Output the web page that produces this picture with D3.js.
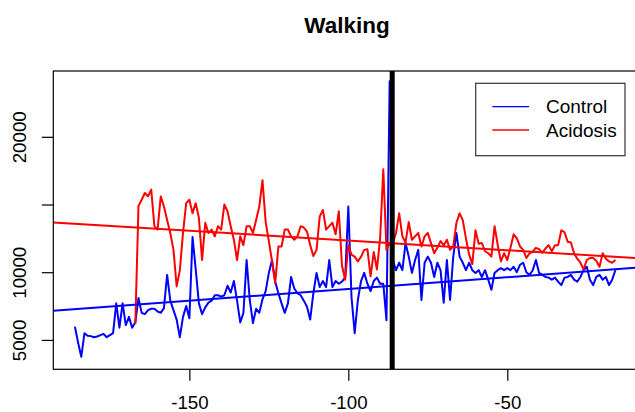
<!DOCTYPE html>
<html>
<head>
<meta charset="utf-8">
<script src="https://cdn.jsdelivr.net/npm/d3@7"></script>
<style>
  body { margin: 0; background: #fff; }
  svg { display: block; font-family: "Liberation Sans", Arial, sans-serif; }
</style>
</head>
<body>
<div id="chart"></div>
<script>
// data: one value per time step
var controlStart = -186;
var controlValues = [
  5970, 4800, 3750, 5500, 5300, 5280, 5200, 5250, 5350, 5450,
  5200, 5350, 5500, 7700, 5900, 7700, 6100, 6700, 5900, 6300,
  8100, 7000, 6900, 7200, 7300, 7300, 7100, 7000, 7350, 9800,
  7900, 7200, 6500, 5200, 6700, 7500, 6600, 12600, 10200, 7700,
  6900, 7400, 7750, 7900, 8300, 8300, 8200, 8300, 9000, 8500,
  9350, 7900, 6300, 7000, 10900, 7950, 6250, 7300, 7000, 8000,
  8600, 9950, 10900, 9300, 8450, 7700, 7000, 7700, 9650, 8800,
  8450, 8300, 7900, 7450, 6500, 8450, 9950, 8900, 9350, 8900,
  10900, 8900, 9350, 9150, 9300, 9600, 14850, 8150, 5500, 7950,
  9350, 9950, 9150, 8600, 9350, 9600, 9150, 9150, 6450, 24100,
  10900, 10150, 10700, 10150, 12150, 11150, 9950, 10900, 11650, 7950,
  10700, 11150, 10700, 9650, 10700, 10150, 7750, 10900, 7950, 11150,
  12900, 11150, 10700, 10150, 10700, 10150, 9950, 10150, 9650, 10150,
  9450, 8700, 9950, 10150, 10300, 10150, 10300, 10150, 10400, 10000,
  10550, 10700, 10000, 9800, 10150, 10900, 9950, 9800, 9650, 9600,
  9450, 9600, 9300, 9050, 9600, 9650, 9800, 9450, 9300, 9650,
  10150, 10400, 9450, 9050, 9650, 9800, 9450, 9650, 9050, 9450, 10150
];

var acidosisStart = -167;
var acidosisValues = [
  6200, 14900, 15350, 15850, 15600, 16100, 13400, 13150, 15600, 14850,
  13850, 12900, 11650, 8950, 10150, 12900, 15100, 15350, 14350, 15100,
  14000, 10900, 13650, 12900, 13150, 12650, 13400, 13150, 15000, 14500,
  13400, 12400, 10900, 12650, 12000, 13400, 13400, 12900, 13850, 14850,
  16800, 13700, 12300, 10800, 9200, 11900, 11900, 13150, 13150, 12650,
  12400, 12650, 13400, 13300, 13000, 12000, 11200, 11650, 14100, 14600,
  13150, 13400, 13650, 12800, 14500, 10500, 9450, 12000, 11300, 11150,
  10800, 11150, 11650, 11700, 9700, 11500, 10200, 12500, 17600, 11650,
  12150, 12150, 12900, 14350, 12650, 12200, 13700, 12400, 12650, 12900,
  11900, 12650, 12900, 12150, 11400, 11800, 12300, 12000, 12400, 11650,
  11900, 13650, 14350, 13850, 12500, 11300, 10600, 13100, 12100, 12150,
  11550, 11400, 11150, 13400, 12000, 10800, 11400, 10900, 11800, 12800,
  12500, 11900, 11650, 11050, 11400, 11500, 11800, 11700, 11450, 11750,
  12000, 11550, 12000, 12000, 13100, 12950, 12250, 12200, 11400, 11000,
  10700, 10200, 10900, 11050, 11050, 10850, 10400, 11400, 11000, 10800,
  10700, 10900
];

// fitted lines [intercept, slope]
var controlFit = [10500, 17.35];
var acidosisFit = [10905, -14.36];

var seriesNames = ["Control", "Acidosis"];
var seriesColors = ["#0000ff", "#ff0000"];
var markerX = -86.2;

var xTicks = [-150, -100, -50];
var yTicks = [5000, 10000, 15000, 20000];
var yLabels = ["5000", "10000", "", "20000"];

var W = 635, H = 412;
var plot = {left: 53.3, right: 637, top: 71, bottom: 369.3};

var x = d3.scaleLinear().domain([-192.8, -9.2]).range([plot.left, plot.right]);
var y = d3.scaleLinear().domain([2830, 24860]).range([plot.bottom, plot.top]);

var svg = d3.select("#chart").append("svg")
    .attr("width", W)
    .attr("height", H);

svg.append("clipPath").attr("id", "clip")
  .append("rect")
    .attr("x", plot.left).attr("y", plot.top)
    .attr("width", plot.right - plot.left).attr("height", plot.bottom - plot.top);

var toPoints = function(start, vals) {
  return vals.map(function(v, i) { return [start + i, v]; });
};

var line = d3.line()
    .x(function(d) { return x(d[0]); })
    .y(function(d) { return y(d[1]); });

var g = svg.append("g").attr("clip-path", "url(#clip)");

// raw series
[[controlStart, controlValues], [acidosisStart, acidosisValues]].forEach(function(s, i) {
  g.append("path")
      .datum(toPoints(s[0], s[1]))
      .attr("d", line)
      .attr("fill", "none")
      .attr("stroke", seriesColors[i])
      .attr("stroke-width", 2)
      .attr("stroke-linejoin", "round");
});

// fitted lines across the whole plot
var xd = x.domain();
[controlFit, acidosisFit].forEach(function(f, i) {
  g.append("path")
      .datum(xd.map(function(xx) { return [xx, f[0] + f[1] * xx]; }))
      .attr("d", line)
      .attr("fill", "none")
      .attr("stroke", seriesColors[i])
      .attr("stroke-width", 2);
});

// vertical marker
g.append("line")
    .attr("x1", x(markerX)).attr("x2", x(markerX))
    .attr("y1", plot.top).attr("y2", plot.bottom)
    .attr("stroke", "#000")
    .attr("stroke-width", 5);

// box
svg.append("rect")
    .attr("x", plot.left).attr("y", plot.top)
    .attr("width", plot.right - plot.left).attr("height", plot.bottom - plot.top)
    .attr("fill", "none")
    .attr("stroke", "#000")
    .attr("stroke-width", 1.2);

// x axis
var xAxis = svg.append("g")
    .attr("transform", "translate(0," + plot.bottom + ")")
    .call(d3.axisBottom(x).tickValues(xTicks).tickSize(11.5).tickPadding(15.3)
      .tickFormat(function(d) { return d; }));
xAxis.select(".domain").remove();
xAxis.selectAll("line").attr("stroke", "#000").attr("stroke-width", 1.2);
xAxis.selectAll("text").attr("font-size", "18.7px").attr("fill", "#000")
    .attr("font-family", "Liberation Sans, Arial, sans-serif");

// y axis with vertical labels
var yAxis = svg.append("g")
    .attr("transform", "translate(" + plot.left + ",0)")
    .call(d3.axisLeft(y).tickValues(yTicks).tickSize(11.5)
      .tickFormat(function(d, i) { return yLabels[i]; }));
yAxis.select(".domain").remove();
yAxis.selectAll("line").attr("stroke", "#000").attr("stroke-width", 1.2);
yAxis.selectAll("text")
    .attr("x", null).attr("dy", null)
    .attr("transform", "translate(-27.3,0) rotate(-90)")
    .attr("text-anchor", "middle")
    .attr("font-size", "18.7px").attr("fill", "#000")
    .attr("font-family", "Liberation Sans, Arial, sans-serif");

// title
svg.append("text")
    .attr("x", 347).attr("y", 33)
    .attr("text-anchor", "middle")
    .attr("font-size", "22.5px")
    .attr("font-weight", "bold")
    .text("Walking");

// legend
var leg = svg.append("g");
leg.append("rect")
    .attr("x", 475.7).attr("y", 83.3)
    .attr("width", 149.3).attr("height", 72.4)
    .attr("fill", "#fff")
    .attr("stroke", "#333")
    .attr("stroke-width", 1.2);
seriesNames.forEach(function(name, i) {
  var ly = 106.7 + i * 23.3;
  leg.append("line")
      .attr("x1", 492.3).attr("x2", 529)
      .attr("y1", ly).attr("y2", ly)
      .attr("stroke", seriesColors[i])
      .attr("stroke-width", 1.3);
  leg.append("text")
      .attr("x", 546).attr("y", ly)
      .attr("dy", "0.35em")
      .attr("font-size", "19px")
      .text(name);
});
</script>
</body>
</html>
